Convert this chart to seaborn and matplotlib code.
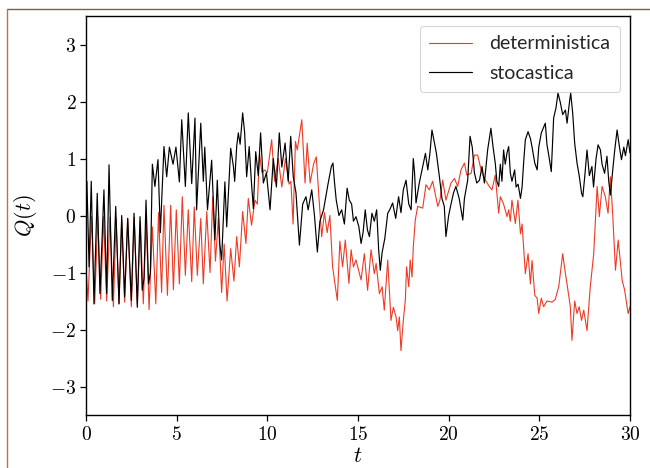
import matplotlib
matplotlib.use("Agg")
import matplotlib.pyplot as plt
from matplotlib.lines import Line2D
from matplotlib.ticker import FixedLocator, FuncFormatter
import seaborn as sns
import pandas as pd

# deterministic series
t_det = [0.0, 0.11, 0.30, 0.48, 0.65, 0.81, 0.97, 1.14, 1.32, 1.51, 1.66, 1.82, 1.97, 2.13, 2.30, 2.50,
         2.66, 2.83, 3.00, 3.16, 3.32, 3.48, 3.66, 3.85, 4.00, 4.17, 4.30, 4.49, 4.67, 4.82, 4.98, 5.15,
         5.31, 5.48, 5.64, 5.83, 5.97, 6.14, 6.33, 6.47, 6.66, 6.84, 6.99, 7.14, 7.30, 7.48, 7.62, 7.78,
         7.98, 8.16, 8.31, 8.46, 8.64, 8.82, 8.95, 9.13, 9.32, 9.45, 9.57, 9.70, 9.85, 10.0, 10.24, 10.4,
         10.6, 10.8, 11.0, 11.2, 11.3, 11.42, 11.55, 11.65, 11.9, 12.08, 12.2, 12.36, 12.55, 12.7, 12.85,
         13.0, 13.15, 13.3, 13.45, 13.6, 13.86, 14.0, 14.15, 14.3, 14.5, 14.62, 14.75, 14.89, 15.17, 15.35,
         15.53, 15.72, 15.9, 16.0, 16.18, 16.33, 16.45, 16.64, 16.82, 16.95, 17.1, 17.19, 17.28, 17.37,
         17.5, 17.61, 17.68, 17.8, 17.88, 17.98, 18.05, 18.16, 18.29, 18.57, 18.75, 18.93, 19.12, 19.4,
         19.52, 19.67, 19.85, 20.13, 20.32, 20.5, 20.68, 20.87, 21.0, 21.24, 21.42, 21.6, 21.79, 21.97,
         22.24, 22.39, 22.57, 22.76, 22.85, 23.03, 23.22, 23.31, 23.4, 23.49, 23.68, 23.82, 23.96, 24.05,
         24.23, 24.38, 24.51, 24.6, 24.75, 24.88, 24.97, 25.11, 25.24, 25.42, 25.7, 25.88, 26.07, 26.29,
         26.44, 26.55, 26.71, 26.8, 26.95, 27.08, 27.2, 27.33, 27.45, 27.63, 27.81, 28.0, 28.19, 28.31,
         28.46, 28.64, 28.79, 28.92, 29.05, 29.2, 29.35, 29.57, 29.7, 29.9, 30.0]
q_det = [-0.9, -1.5, -0.02, -1.55, -0.02, -1.47, -0.02, -1.5, -0.03, -1.6, -0.05, -1.55, -0.08, -1.52,
         -0.05, -1.6, -0.03, -1.55, -0.1, -1.55, -0.1, -1.65, -0.2, -1.55, 0.05, -1.35, 0.18, -1.4, 0.18,
         -1.3, 0.1, -1.2, 0.33, -1.05, 0.1, -1.16, 0.15, -1.05, -0.05, -1.2, 0.07, -1.0, 0.33, -0.8,
         -0.05, -1.35, -0.5, -1.5, -0.58, -1.15, -0.37, -0.9, 0.07, -0.49, 0.30, -0.17, 0.27, 0.2, 1.09,
         0.75, 0.8, 0.75, 1.33, 0.6, 1.0, 0.5, 1.0, 0.55, 0.6, -0.15, 1.3, 1.15, 1.68, 0.57, 1.27, 0.57,
         0.9, 1.03, 0.3, -0.37, 0.05, -0.3, 0.0, -0.9, -1.49, -0.45, -0.9, -0.43, -1.19, -0.6, -0.9, -0.78,
         -1.13, -0.67, -1.31, -0.6, -1.02, -0.84, -1.37, -1.25, -1.66, -0.78, -1.84, -1.61, -1.78, -2.02,
         -1.78, -2.37, -1.84, -1.49, -0.9, -1.25, -0.78, -1.08, -0.55, -0.08, 0.16, 0.13, 0.54, 0.45, 0.6,
         0.16, 0.27, 0.62, 0.27, 0.57, 0.65, 0.51, 0.8, 0.92, 0.71, 0.74, 1.06, 1.06, 0.8, 0.65, 0.51,
         0.45, 0.71, 0.04, 0.33, 0.2, -0.02, 0.1, -0.1, 0.27, -0.14, 0.27, -0.32, -0.15, -1.02, -0.67,
         -1.2, -0.79, -1.4, -1.45, -1.72, -1.45, -1.6, -1.5, -1.52, -1.47, -1.25, -0.67, -1.02, -1.25,
         -1.6, -2.19, -1.5, -1.72, -1.6, -1.84, -1.66, -2.02, -1.25, -0.67, 0.51, -0.02, 0.51, 0.33, 0.04,
         0.68, 0.0, -0.96, -0.43, -1.14, -1.3, -1.72, -1.6]

# stochastic series
t_sto = [0.0, 0.05, 0.17, 0.29, 0.44, 0.62, 0.77, 0.99, 1.14, 1.27, 1.45, 1.64, 1.82, 1.97, 2.13, 2.30,
         2.50, 2.65, 2.83, 2.98, 3.10, 3.20, 3.31, 3.45, 3.55, 3.66, 3.80, 3.97, 4.10, 4.30, 4.45, 4.60,
         4.80, 4.96, 5.15, 5.28, 5.48, 5.64, 5.83, 6.01, 6.10, 6.33, 6.47, 6.55, 6.70, 6.93, 7.11, 7.24,
         7.38, 7.48, 7.66, 7.76, 7.98, 8.13, 8.20, 8.31, 8.40, 8.50, 8.64, 8.75, 8.86, 9.00, 9.12, 9.23,
         9.36, 9.50, 9.63, 9.78, 9.95, 10.15, 10.33, 10.5, 10.66, 10.8, 10.98, 11.15, 11.29, 11.43, 11.58,
         11.77, 11.95, 12.13, 12.25, 12.45, 12.6, 12.76, 12.9, 13.1, 13.34, 13.53, 13.62, 13.7, 13.8,
         13.95, 14.1, 14.25, 14.4, 14.52, 14.65, 14.75, 14.89, 15.05, 15.17, 15.28, 15.4, 15.52, 15.63,
         15.77, 15.9, 16.03, 16.14, 16.23, 16.33, 16.48, 16.64, 16.75, 16.91, 17.08, 17.24, 17.37, 17.5,
         17.65, 17.8, 17.93, 18.05, 18.12, 18.2, 18.38, 18.57, 18.72, 18.85, 18.97, 19.08, 19.2, 19.32,
         19.49, 19.63, 19.76, 19.85, 20.0, 20.13, 20.27, 20.4, 20.58, 20.78, 20.87, 21.05, 21.18, 21.3,
         21.42, 21.55, 21.7, 21.84, 21.97, 22.15, 22.33, 22.45, 22.57, 22.66, 22.76, 22.85, 22.94, 23.03,
         23.12, 23.22, 23.31, 23.4, 23.49, 23.64, 23.72, 23.83, 23.96, 24.05, 24.14, 24.23, 24.38, 24.51,
         24.6, 24.75, 24.88, 24.97, 25.11, 25.24, 25.33, 25.42, 25.55, 25.66, 25.79, 25.92, 26.03, 26.16,
         26.29, 26.44, 26.53, 26.66, 26.73, 26.84, 26.95, 27.08, 27.2, 27.33, 27.4, 27.51, 27.63, 27.76,
         27.9, 27.99, 28.13, 28.24, 28.37, 28.46, 28.6, 28.73, 28.83, 28.92, 29.05, 29.16, 29.29, 29.42,
         29.53, 29.66, 29.75, 29.9, 30.0]
q_sto = [-0.5, 0.6, -0.9, 0.6, -1.55, 0.39, -1.37, 0.45, -1.37, 0.89, -1.49, 0.16, -1.55, 0.0, -1.43,
         -0.05, -1.49, 0.04, -1.61, -0.02, -1.31, -1.1, 0.27, -1.2, -1.0, 0.9, 0.51, 0.98, -0.3, 1.21,
         0.68, 1.2, 0.9, 1.2, 0.59, 1.68, 0.51, 1.80, 0.56, 1.71, 0.1, 1.62, 0.6, 1.2, 0.1, 0.97, -0.43,
         0.62, -0.5, -0.78, 0.59, -0.2, 1.18, 0.86, 0.6, 1.21, 1.45, 1.25, 1.8, 1.45, 0.68, 1.21, 0.6,
         0.12, 1.12, 0.7, 1.45, 0.57, 0.75, 0.1, 1.0, 0.5, 1.45, 0.85, 1.27, 0.6, 1.39, 0.68, 0.4, -0.52,
         0.2, 0.33, 0.1, 0.45, 0.0, -0.64, -0.1, 0.1, 0.54, 0.86, 0.92, 0.6, 0.27, 0.0, 0.1, -0.15, 0.48,
         0.27, 0.2, -0.1, -0.02, -0.2, -0.49, -0.3, 0.1, -0.25, -0.37, 0.04, -0.1, 0.1, -0.6, -0.96,
         -0.65, -0.4, 0.04, 0.1, 0.22, -0.05, 0.33, 0.05, 0.45, 0.62, 0.2, 0.1, 1.0, 0.75, 0.22, 0.57,
         0.86, 1.09, 0.8, 1.1, 1.5, 1.3, 1.1, 0.68, 0.3, 0.16, -0.37, 0.0, 0.2, 0.4, 0.51, 0.3, -0.08,
         0.3, 0.62, 1.39, 1.2, 0.75, 0.57, 0.62, 0.86, 0.57, 1.15, 1.53, 1.2, 0.92, 0.6, 0.51, 0.9, 0.6,
         1.15, 0.9, 1.1, 1.21, 0.75, 0.6, 0.8, 0.5, 0.55, 0.3, 0.5, 0.95, 1.33, 1.47, 1.35, 1.2, 0.92,
         0.8, 1.2, 1.45, 1.55, 1.62, 1.25, 1.0, 0.77, 1.71, 1.89, 2.15, 1.98, 1.77, 1.85, 1.62, 1.98,
         2.15, 1.8, 1.27, 0.92, 0.7, 0.39, 0.33, 0.7, 1.15, 0.7, 0.86, 0.5, 1.0, 1.24, 1.15, 0.9, 0.74,
         1.04, 0.6, 0.36, 0.8, 1.15, 1.5, 1.2, 0.98, 1.2, 1.05, 1.33, 1.1]

labels = ["deterministica", "stocastica"]
x_ticks = [0, 5, 10, 15, 20, 25, 30]
y_ticks = [-3, -2, -1, 0, 1, 2, 3]

sns.set_theme(style="ticks")
plt.rcParams["mathtext.fontset"] = "cm"
plt.rcParams["font.family"] = ["Lato", "DejaVu Sans"]

fig = plt.figure(figsize=(6.5, 4.68), dpi=100)
ax = fig.add_axes([0.1323, 0.1132, 0.8369, 0.8526])

df_det = pd.DataFrame({"t": t_det, "Q": q_det})
df_sto = pd.DataFrame({"t": t_sto, "Q": q_sto})
sns.lineplot(data=df_det, x="t", y="Q", ax=ax, color="#ee3a24", lw=0.8,
             sort=False, estimator=None, label=labels[0])
sns.lineplot(data=df_sto, x="t", y="Q", ax=ax, color="black", lw=0.85,
             sort=False, estimator=None, label=labels[1])

ax.set_xlim(0, 30)
ax.set_ylim(-3.5, 3.5)
ax.xaxis.set_major_locator(FixedLocator(x_ticks))
ax.yaxis.set_major_locator(FixedLocator(y_ticks))
ax.xaxis.set_major_formatter(FuncFormatter(lambda v, p: r"$%d$" % v))
ax.yaxis.set_major_formatter(FuncFormatter(lambda v, p: r"$%d$" % v))
ax.tick_params(axis="both", labelsize=14, length=4, width=0.9, color="black",
               direction="out", labelcolor="black", pad=3)
for s in ax.spines.values():
    s.set_visible(True)
    s.set_color("black")
    s.set_linewidth(1.0)
ax.set_xlabel(r"$t$", fontsize=16, color="black", labelpad=2)
ax.set_ylabel(r"$Q(t)$", fontsize=16, color="black", labelpad=8)

leg = ax.legend(loc="upper right", fontsize=14, frameon=True, fancybox=True,
                handlelength=2.2, borderpad=0.5, labelspacing=0.65, handletextpad=0.9,
                borderaxespad=0.5)
leg.get_frame().set_edgecolor("#cccccc")
leg.get_frame().set_linewidth(0.8)

# screenshot border lines
fig.add_artist(Line2D([0.011, 1.0], [0.981, 0.981], transform=fig.transFigure,
                      color="#8a5a3c", lw=1.0))
fig.add_artist(Line2D([0.011, 0.011], [0.0, 0.981], transform=fig.transFigure,
                      color="#b8783c", lw=1.0))

fig.savefig("out.png", dpi=100, facecolor="white")
